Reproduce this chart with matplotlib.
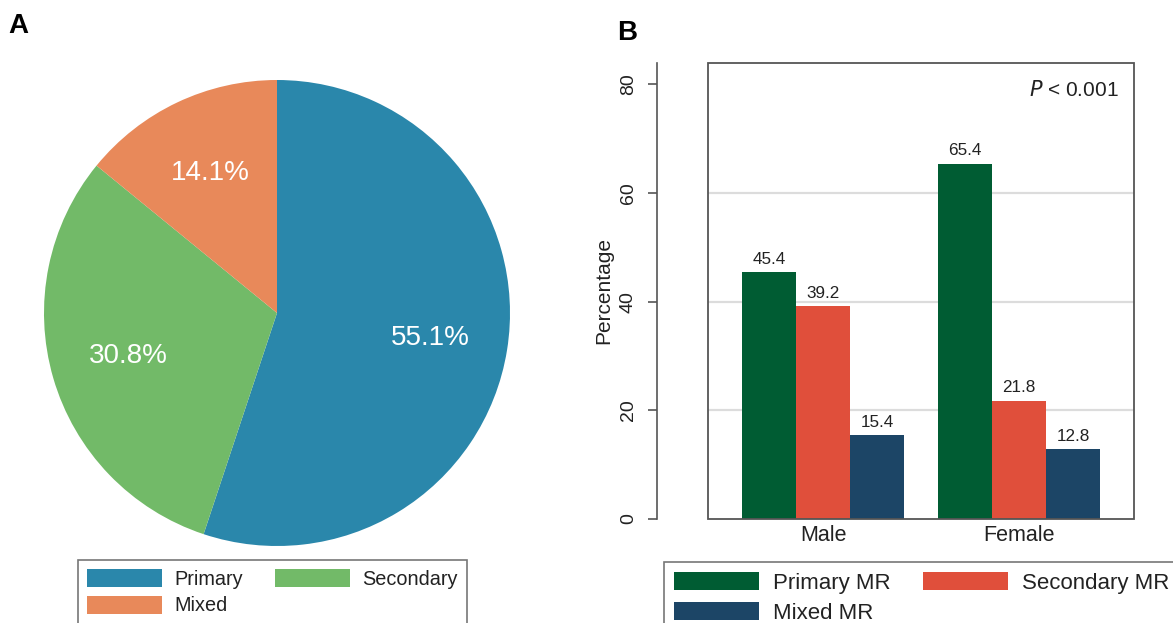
import numpy as np
import matplotlib.pyplot as plt
from matplotlib.patches import Rectangle, Patch

plt.rcParams['font.family'] = ['Liberation Sans', 'DejaVu Sans']

# Panel A: share of each MR type
pie_labels = ['Primary', 'Secondary', 'Mixed']
pie_values = [55.1, 30.8, 14.1]
pie_colors = ['#2a87ab', '#72ba68', '#e8895a']

# Panel B: MR type by sex
groups = ['Male', 'Female']
bar_series = ['Primary MR', 'Secondary MR', 'Mixed MR']
primary = [45.4, 65.4]
secondary = [39.2, 21.8]
mixed = [15.4, 12.8]
bar_colors = ['#005c33', '#e04f3b', '#1c4566']

W, H = 1173, 623
fig = plt.figure(figsize=(W / 100, H / 100), dpi=100)

def box(l, t, w, h):
    # pixel box (left, top, width, height) -> figure fraction
    return [l / W, 1 - (t + h) / H, w / W, h / H]

# legend entries filled row by row: ncol=2 fills columns, so reorder
row_order = [0, 2, 1]

# ---- A: pie ----
axA = fig.add_axes(box(277 - 233, 313 - 233, 466, 466))
wedges, _, autotexts = axA.pie(pie_values, colors=pie_colors, startangle=90,
                               counterclock=False, autopct='%.1f%%',
                               pctdistance=0.665,
                               textprops=dict(color='white', fontsize=20))
axA.set_xlim(-1, 1)
axA.set_ylim(-1, 1)
axA.set_aspect('auto')

legA = fig.legend([wedges[i] for i in row_order], [pie_labels[i] for i in row_order],
                  loc='upper left',
                  bbox_to_anchor=(78 / W, 1 - 560 / H), borderaxespad=0,
                  ncol=2, fontsize=14.3, frameon=True, fancybox=False,
                  handlelength=3.8, handleheight=1.0, handletextpad=0.6,
                  columnspacing=1.6, labelspacing=0.36, borderpad=0.45)
legA.get_frame().set_edgecolor('#555555')
legA.get_frame().set_linewidth(1.2)
for t in legA.get_texts():
    t.set_color('#222222')

fig.text(8 / W, 1 - 33 / H, 'A', fontsize=20, fontweight='bold', va='baseline')

# ---- B: grouped bars ----
axB = fig.add_axes(box(708, 62.7, 426, 456.3))
for s in ['top', 'right', 'bottom']:
    axB.spines[s].set_visible(False)
axB.spines['left'].set_position(('outward', 36.7))
axB.spines['left'].set_color('#555555')
axB.spines['left'].set_linewidth(1.2)

x = np.arange(len(groups))
w = 0.2755
for i, (vals, c) in enumerate(zip([primary, secondary, mixed], bar_colors)):
    pos = x + (i - 1) * w
    axB.bar(pos, vals, width=w, color=c, label=bar_series[i], zorder=3)
    for px, v in zip(pos, vals):
        axB.annotate(f'{v:.1f}', (px, v), xytext=(0, 4), textcoords='offset points',
                     ha='center', va='bottom', fontsize=12.3, color='#222222')

for g in [20, 40, 60]:
    axB.axhline(g, color='#dcdcdc', lw=1.6, zorder=1)

axB.set_xlim(-0.587, 1.587)
axB.set_ylim(0, 84)
axB.set_xticks(x)
axB.set_xticklabels(groups, fontsize=15.5, color='#222222')
axB.tick_params(axis='x', length=0, pad=4)
axB.set_yticks([0, 20, 40, 60, 80])
axB.set_yticklabels(['0', '20', '40', '60', '80'], rotation=90, va='center',
                    fontsize=14, color='#222222')
axB.tick_params(axis='y', length=6.5, width=1.2, color='#555555', pad=8)

axB.add_patch(Rectangle((0, 0), 1, 1, transform=axB.transAxes, fill=False,
                        edgecolor='#555555', lw=1.3, zorder=5, clip_on=False))

axB.text(0.965, 0.94, r'$\it{P}$ < 0.001', transform=axB.transAxes,
         ha='right', va='center', fontsize=15, color='#222222')
fig.text(604 / W, 1 - 291 / H, 'Percentage', rotation=90, ha='center',
         va='center', fontsize=15, color='#222222')

handles = [Patch(facecolor=c) for c in bar_colors]
legB = fig.legend([handles[i] for i in row_order], [bar_series[i] for i in row_order],
                  loc='upper left',
                  bbox_to_anchor=(664 / W, 1 - 562 / H), borderaxespad=0,
                  ncol=2, fontsize=16, frameon=True, fancybox=False,
                  handlelength=3.83, handleheight=0.9, handletextpad=0.63,
                  columnspacing=1.44, labelspacing=0.36, borderpad=0.45)
legB.get_frame().set_edgecolor('#555555')
legB.get_frame().set_linewidth(1.2)
for t in legB.get_texts():
    t.set_color('#222222')

fig.text(617 / W, 1 - 40 / H, 'B', fontsize=20, fontweight='bold', va='baseline')

fig.savefig('out.png', dpi=100)
